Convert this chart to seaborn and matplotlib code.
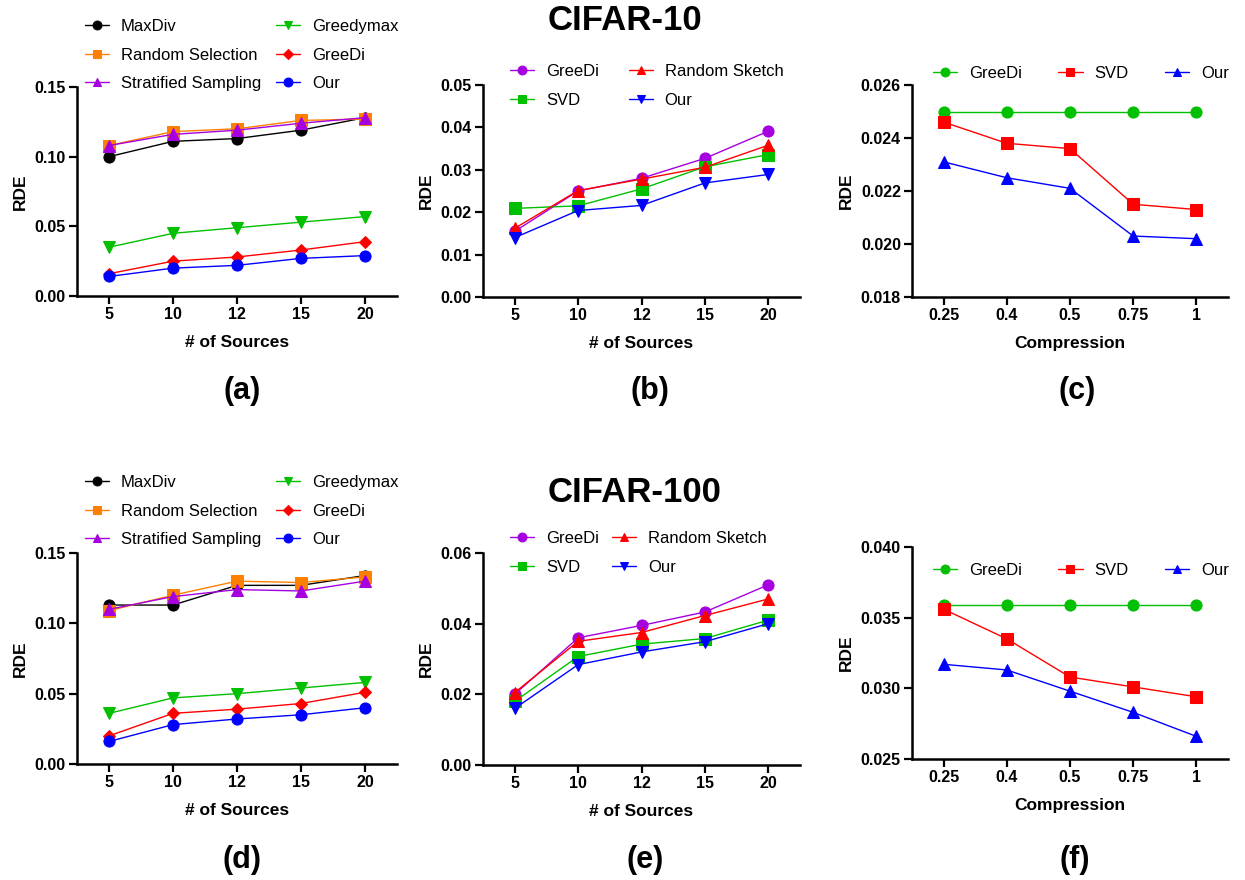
import numpy as np
import matplotlib
matplotlib.use("Agg")
import matplotlib.pyplot as plt
import seaborn as sns

# x categories
sources = ["5", "10", "12", "15", "20"]
compression = ["0.25", "0.4", "0.5", "0.75", "1"]

# CIFAR-10 (a)
a_maxdiv = [0.100, 0.111, 0.113, 0.119, 0.128]
a_random_sel = [0.108, 0.118, 0.120, 0.126, 0.127]
a_stratified = [0.108, 0.116, 0.119, 0.124, 0.128]
a_greedymax = [0.035, 0.045, 0.049, 0.053, 0.057]
a_greedi = [0.016, 0.025, 0.028, 0.033, 0.039]
a_our = [0.014, 0.020, 0.022, 0.027, 0.029]

# CIFAR-10 (b)
b_greedi = [0.0155, 0.0250, 0.0280, 0.0327, 0.0391]
b_svd = [0.0209, 0.0215, 0.0255, 0.0307, 0.0336]
b_random_sketch = [0.0162, 0.0251, 0.0278, 0.0306, 0.0358]
b_our = [0.0140, 0.0204, 0.0216, 0.0269, 0.0289]

# CIFAR-10 (c)
c_greedi = [0.0250, 0.0250, 0.0250, 0.0250, 0.0250]
c_svd = [0.0246, 0.0238, 0.0236, 0.0215, 0.0213]
c_our = [0.0231, 0.0225, 0.0221, 0.0203, 0.0202]

# CIFAR-100 (d)
d_maxdiv = [0.113, 0.113, 0.127, 0.127, 0.134]
d_random_sel = [0.109, 0.120, 0.130, 0.129, 0.133]
d_stratified = [0.110, 0.119, 0.124, 0.123, 0.130]
d_greedymax = [0.036, 0.047, 0.050, 0.054, 0.058]
d_greedi = [0.020, 0.036, 0.039, 0.043, 0.051]
d_our = [0.016, 0.028, 0.032, 0.035, 0.040]

# CIFAR-100 (e)
e_greedi = [0.0200, 0.0360, 0.0395, 0.0433, 0.0510]
e_svd = [0.0180, 0.0307, 0.0342, 0.0358, 0.0410]
e_random_sketch = [0.0205, 0.0350, 0.0375, 0.0423, 0.0470]
e_our = [0.0160, 0.0284, 0.0320, 0.0349, 0.0400]

# CIFAR-100 (f)
f_greedi = [0.0359, 0.0359, 0.0359, 0.0359, 0.0359]
f_svd = [0.0356, 0.0335, 0.0308, 0.0301, 0.0294]
f_our = [0.0317, 0.0313, 0.0298, 0.0283, 0.0266]

BLACK, ORANGE, PURPLE, GREEN, RED, BLUE = "#000000", "#FF8000", "#A600E0", "#00C000", "#FF0000", "#0000FF"

sns.set_style("ticks")
plt.rcParams["font.family"] = ["Liberation Sans", "DejaVu Sans"]
plt.rcParams.update({"text.color": "black", "axes.labelcolor": "black",
                     "xtick.color": "black", "ytick.color": "black"})

W, H = 1245, 880
fig = plt.figure(figsize=(W / 100, H / 100), dpi=100)


def px_axes(left, right, top, bottom):
    return fig.add_axes([left / W, 1 - bottom / H, (right - left) / W, (bottom - top) / H])


def draw(ax, xlabels, series, ylim, yticks, fmt, xlabel):
    pos = np.arange(len(xlabels))
    for name, vals, color, marker, ms in series:
        sns.lineplot(x=pos, y=vals, ax=ax, color=color, marker=marker, markersize=ms,
                     markeredgecolor=color, linewidth=1.0, label=name)
    ax.set_xlim(-0.5, len(xlabels) - 0.5)
    ax.set_ylim(*ylim)
    ax.set_xticks(pos)
    ax.set_xticklabels(xlabels)
    ax.set_yticks(yticks)
    ax.set_yticklabels([fmt % v for v in yticks])
    for lab in ax.get_xticklabels() + ax.get_yticklabels():
        lab.set_fontweight("bold")
        lab.set_fontsize(11.5)
    ax.set_xlabel(xlabel, fontsize=12.5, fontweight="bold", labelpad=9)
    ax.set_ylabel("RDE", fontsize=12.5, fontweight="bold", labelpad=5)
    for s in ["top", "right"]:
        ax.spines[s].set_visible(False)
    for s in ["left", "bottom"]:
        ax.spines[s].set_linewidth(1.8)
        ax.spines[s].set_color("black")
    ax.tick_params(axis="both", length=6, width=1.6, color="black", pad=2)


def legend(ax, x, y, ncol, colsp):
    ax.legend(loc="upper left", bbox_to_anchor=(x / W, 1 - y / H), bbox_transform=fig.transFigure,
              ncol=ncol, frameon=False, fontsize=12, borderpad=0, borderaxespad=0, markerscale=0.8,
              handlelength=1.45, handletextpad=0.7, columnspacing=colsp, labelspacing=0.82)


ax_a = px_axes(77, 397, 87, 296)
draw(ax_a, sources, [("MaxDiv", a_maxdiv, BLACK, "o", 8), ("Random Selection", a_random_sel, ORANGE, "s", 8),
                     ("Stratified Sampling", a_stratified, PURPLE, "^", 8), ("Greedymax", a_greedymax, GREEN, "v", 8),
                     ("GreeDi", a_greedi, RED, "D", 6), ("Our", a_our, BLUE, "o", 8)],
     (0, 0.15), [0, 0.05, 0.10, 0.15], "%.2f", "# of Sources")
legend(ax_a, 85, 19, 2, 0.9)

ax_b = px_axes(483, 800, 85, 297)
draw(ax_b, sources, [("GreeDi", b_greedi, PURPLE, "o", 8), ("SVD", b_svd, GREEN, "s", 8),
                     ("Random Sketch", b_random_sketch, RED, "^", 8), ("Our", b_our, BLUE, "v", 8)],
     (0, 0.05), [0, 0.01, 0.02, 0.03, 0.04, 0.05], "%.2f", "# of Sources")
legend(ax_b, 510, 64, 2, 1.8)

ax_c = px_axes(912, 1228, 85, 297)
draw(ax_c, compression, [("GreeDi", c_greedi, GREEN, "o", 8), ("SVD", c_svd, RED, "s", 8),
                         ("Our", c_our, BLUE, "^", 8)],
     (0.018, 0.026), [0.018, 0.020, 0.022, 0.024, 0.026], "%.3f", "Compression")
legend(ax_c, 933, 66, 3, 2.2)

ax_d = px_axes(77, 397, 553, 764)
draw(ax_d, sources, [("MaxDiv", d_maxdiv, BLACK, "o", 8), ("Random Selection", d_random_sel, ORANGE, "s", 8),
                     ("Stratified Sampling", d_stratified, PURPLE, "^", 8), ("Greedymax", d_greedymax, GREEN, "v", 8),
                     ("GreeDi", d_greedi, RED, "D", 6), ("Our", d_our, BLUE, "o", 8)],
     (0, 0.15), [0, 0.05, 0.10, 0.15], "%.2f", "# of Sources")
legend(ax_d, 85, 475, 2, 0.9)

ax_e = px_axes(483, 800, 553, 765)
draw(ax_e, sources, [("GreeDi", e_greedi, PURPLE, "o", 8), ("SVD", e_svd, GREEN, "s", 8),
                     ("Random Sketch", e_random_sketch, RED, "^", 8), ("Our", e_our, BLUE, "v", 8)],
     (0, 0.06), [0, 0.02, 0.04, 0.06], "%.2f", "# of Sources")
legend(ax_e, 510, 531, 2, 0.8)

ax_f = px_axes(912, 1228, 547, 759)
draw(ax_f, compression, [("GreeDi", f_greedi, GREEN, "o", 8), ("SVD", f_svd, RED, "s", 8),
                         ("Our", f_our, BLUE, "^", 8)],
     (0.025, 0.040), [0.025, 0.030, 0.035, 0.040], "%.3f", "Compression")
legend(ax_f, 933, 563, 3, 2.2)

fig.text(625 / W, 1 - 21 / H, "CIFAR-10", ha="center", va="center", fontsize=25, fontweight="bold")
fig.text(635 / W, 1 - 493 / H, "CIFAR-100", ha="center", va="center", fontsize=25, fontweight="bold")

for lab, x, y in [("(a)", 242, 391), ("(b)", 650, 391), ("(c)", 1077, 391),
                  ("(d)", 242, 860), ("(e)", 645, 860), ("(f)", 1075, 860)]:
    fig.text(x / W, 1 - y / H, lab, ha="center", va="center", fontsize=22, fontweight="bold")

fig.savefig("out.png", dpi=100)
